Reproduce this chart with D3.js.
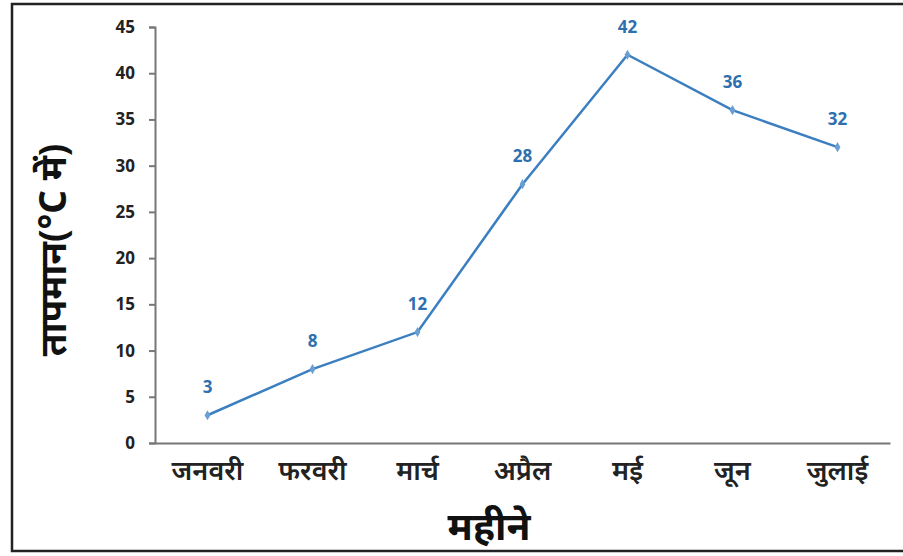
<!DOCTYPE html>
<html>
<head>
<meta charset="utf-8">
<script src="https://cdn.jsdelivr.net/npm/d3@7"></script>
<style>
  body { margin: 0; background: #fff; }
  svg { display: block; }
</style>
</head>
<body>
<div id="chart"></div>
<script>
const months = ["जनवरी", "फरवरी", "मार्च", "अप्रैल", "मई", "जून", "जुलाई"];
const temps = [3, 8, 12, 28, 42, 36, 32];
const yTicks = [0, 5, 10, 15, 20, 25, 30, 35, 40, 45];

const W = 903, H = 556;
const margin = { top: 27, right: 13, bottom: 113, left: 155 };
const width = W - margin.left - margin.right,
      height = H - margin.top - margin.bottom;

const svg = d3.select("#chart").append("svg")
    .attr("width", W)
    .attr("height", H);

// outer frame
svg.append("rect")
   .attr("x", 12).attr("y", 4)
   .attr("width", W + 10).attr("height", 547)
   .attr("fill", "none")
   .attr("stroke", "#222")
   .attr("stroke-width", 2.5);

const g = svg.append("g")
    .attr("transform", `translate(${margin.left},${margin.top})`);

const data = months.map((m, i) => ({ month: m, temp: temps[i] }));

const x = d3.scaleBand().domain(months).range([0, width]);
const y = d3.scaleLinear().domain([0, 45]).range([height, 0]);

// Y axis
const yAxis = g.append("g")
   .call(d3.axisLeft(y).tickValues(yTicks).tickSize(6).tickPadding(14));
yAxis.select(".domain").attr("stroke", "#777").attr("stroke-width", 2);
yAxis.selectAll(".tick line").attr("stroke", "#777").attr("stroke-width", 2);
yAxis.selectAll(".tick text")
     .style("font-family", "'Open Sans', sans-serif")
     .style("font-weight", "bold")
     .style("font-size", "17px")
     .attr("fill", "#222");

// X axis
const xAxis = g.append("g")
   .attr("transform", `translate(0,${height})`)
   .call(d3.axisBottom(x).tickSize(0).tickPadding(18));
xAxis.select(".domain").attr("stroke", "#777").attr("stroke-width", 2);
xAxis.selectAll(".tick text")
     .style("font-size", "27px")
     .attr("fill", "#222")
     .style("font-family", "'Noto Sans', sans-serif")
     .style("font-weight", "600");

// axis titles
svg.append("text")
   .attr("x", 489).attr("y", 540)
   .attr("text-anchor", "middle")
   .style("font-size", "39px")
   .attr("font-weight", "bold")
   .attr("fill", "#111")
   .style("font-family", "'Noto Sans', sans-serif")
   .text("महीने");

svg.append("text")
   .attr("transform", "translate(66,250) rotate(-90)")
   .attr("text-anchor", "middle")
   .style("font-size", "37px")
   .attr("font-weight", "bold")
   .attr("fill", "#111")
   .style("font-family", "'Noto Sans', sans-serif")
   .text("तापमान(°C में)");

const cx = d => x(d.month) + x.bandwidth() / 2;

// line
const line = d3.line().x(cx).y(d => y(d.temp));
g.append("path")
 .datum(data)
 .attr("fill", "none")
 .attr("stroke", "#3b7fc0")
 .attr("stroke-width", 2.5)
 .attr("d", line);

// diamond markers
g.selectAll(".pt")
 .data(data)
 .enter()
 .append("path")
 .attr("class", "pt")
 .attr("transform", d => `translate(${cx(d)},${y(d.temp)})`)
 .attr("d", d3.symbol().type(d3.symbolDiamond).size(30))
 .attr("fill", "#6a9fd4");

// value labels
g.selectAll(".lbl")
 .data(data)
 .enter()
 .append("text")
 .attr("class", "lbl")
 .attr("x", cx)
 .attr("y", d => y(d.temp) - 22)
 .attr("text-anchor", "middle")
 .style("font-size", "17px")
 .attr("font-weight", "bold")
 .attr("fill", "#2e6fb0")
 .style("font-family", "'Open Sans', sans-serif")
 .text(d => d.temp);
</script>
</body>
</html>
